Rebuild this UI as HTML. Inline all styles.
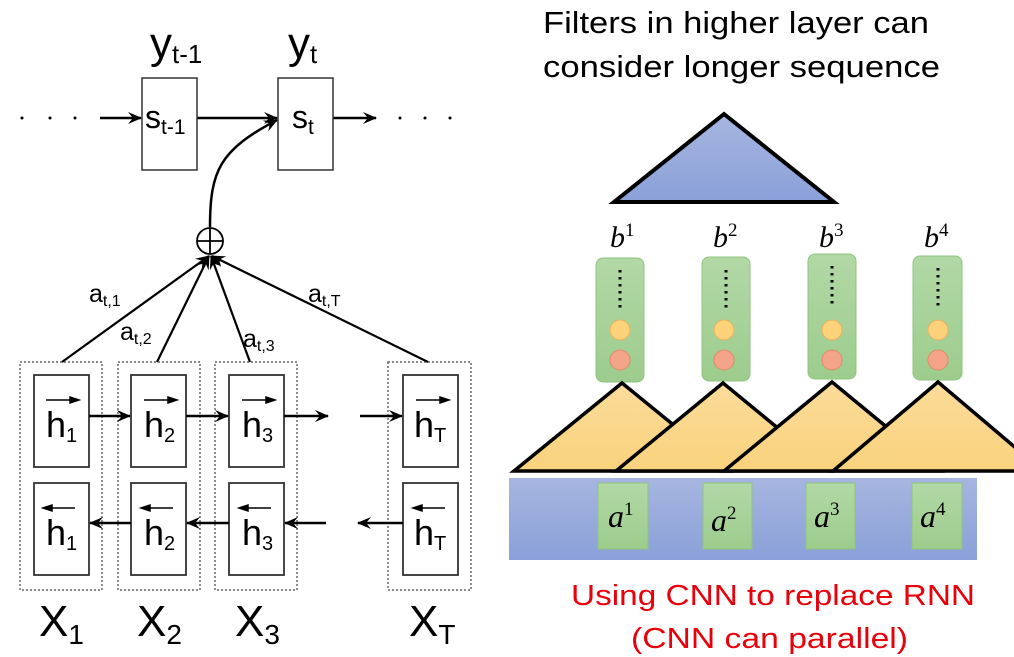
<!DOCTYPE html>
<html><head><meta charset="utf-8"><style>
html,body{margin:0;padding:0;background:#fff;width:1014px;height:657px;overflow:hidden}
</style></head><body>
<svg width="1014" height="657" viewBox="0 0 1014 657" xmlns="http://www.w3.org/2000/svg" font-family="Liberation Sans, sans-serif">
<defs>
<marker id="ar" markerWidth="14" markerHeight="12" refX="13" refY="6" orient="auto" markerUnits="userSpaceOnUse">
<path d="M0,0 L14,6 L0,12 L5,6 Z" fill="#000"/></marker>
<linearGradient id="blu" x1="0" y1="0" x2="0" y2="1"><stop offset="0" stop-color="#a7b6e0"/><stop offset="1" stop-color="#8aa0d8"/></linearGradient>
<linearGradient id="grn" x1="0" y1="0" x2="0" y2="1"><stop offset="0" stop-color="#b2d8a6"/><stop offset="1" stop-color="#9dcc8d"/></linearGradient>
<linearGradient id="org" x1="0" y1="0" x2="0" y2="1"><stop offset="0" stop-color="#fbdc9a"/><stop offset="1" stop-color="#f9d27c"/></linearGradient>
</defs>

<g fill="#000">
<circle cx="22" cy="118" r="1.5"/><circle cx="50" cy="118" r="1.5"/><circle cx="75" cy="118" r="1.5"/>
<circle cx="400" cy="118" r="1.5"/><circle cx="425" cy="118" r="1.5"/><circle cx="450" cy="118" r="1.5"/>
</g>
<g stroke="#000" stroke-width="2.5" fill="none">
<line x1="100" y1="118" x2="141" y2="118" marker-end="url(#ar)"/>
<line x1="197" y1="118" x2="277" y2="118" marker-end="url(#ar)"/>
<line x1="333" y1="118" x2="376" y2="118" marker-end="url(#ar)"/>
<path d="M210,227 C210,170 220,150 277,120" marker-end="url(#ar)"/>
</g>
<rect x="142" y="78" width="55" height="92" fill="none" stroke="#333" stroke-width="1.5"/>
<rect x="278" y="78" width="55" height="92" fill="none" stroke="#333" stroke-width="1.5"/>
<text x="145" y="128" font-size="32">s<tspan font-size="21" dy="6">t-1</tspan></text>
<text x="292" y="128" font-size="32">s<tspan font-size="21" dy="6">t</tspan></text>
<text x="150" y="58" font-size="44">y<tspan font-size="26" dy="5">t-1</tspan></text>
<text x="288" y="58" font-size="44">y<tspan font-size="26" dy="5">t</tspan></text>

<circle cx="210" cy="241" r="13" fill="none" stroke="#000" stroke-width="1.8"/>
<line x1="197" y1="241" x2="223" y2="241" stroke="#000" stroke-width="1.8"/>
<line x1="210" y1="228" x2="210" y2="254" stroke="#000" stroke-width="1.8"/>
<g stroke="#000" stroke-width="2.2" fill="none">
<line x1="62" y1="362" x2="209" y2="256" marker-end="url(#ar)"/>
<line x1="157" y1="362" x2="209" y2="256" marker-end="url(#ar)"/>
<line x1="250" y1="362" x2="211" y2="256" marker-end="url(#ar)"/>
<line x1="428" y1="362" x2="212" y2="256" marker-end="url(#ar)"/>
</g>
<text x="89" y="302" font-size="25">a<tspan font-size="16" dy="4">t,1</tspan></text>
<text x="120" y="340" font-size="25">a<tspan font-size="16" dy="4">t,2</tspan></text>
<text x="243" y="347" font-size="25">a<tspan font-size="16" dy="4">t,3</tspan></text>
<text x="308" y="302" font-size="25">a<tspan font-size="16" dy="4">t,T</tspan></text>

<g fill="none" stroke="#444" stroke-width="1.2" stroke-dasharray="2,2">
<rect x="20" y="362" width="82" height="228"/>
<rect x="118" y="362" width="82" height="228"/>
<rect x="215" y="362" width="82" height="228"/>
<rect x="388" y="362" width="83" height="228"/>
</g>
<g fill="none" stroke="#333" stroke-width="1.8">
<rect x="34" y="375" width="55" height="92"/><rect x="131" y="375" width="55" height="92"/>
<rect x="229" y="375" width="55" height="92"/><rect x="403" y="375" width="55" height="92"/>
<rect x="34" y="483" width="55" height="92"/><rect x="131" y="483" width="55" height="92"/>
<rect x="229" y="483" width="55" height="92"/><rect x="403" y="483" width="55" height="92"/>
</g>
<g stroke="#000" stroke-width="2.5" fill="none">
<line x1="89" y1="416" x2="130" y2="416" marker-end="url(#ar)"/>
<line x1="186" y1="416" x2="228" y2="416" marker-end="url(#ar)"/>
<line x1="284" y1="416" x2="328" y2="416" marker-end="url(#ar)"/>
<line x1="360" y1="416" x2="402" y2="416" marker-end="url(#ar)"/>
<line x1="131" y1="523" x2="90" y2="523" marker-end="url(#ar)"/>
<line x1="229" y1="523" x2="187" y2="523" marker-end="url(#ar)"/>
<line x1="326" y1="523" x2="285" y2="523" marker-end="url(#ar)"/>
<line x1="403" y1="523" x2="358" y2="523" marker-end="url(#ar)"/>
</g>
<g font-size="36">
<text x="46" y="437">h<tspan font-size="20" dy="5">1</tspan></text>
<text x="144" y="437">h<tspan font-size="20" dy="5">2</tspan></text>
<text x="242" y="437">h<tspan font-size="20" dy="5">3</tspan></text>
<text x="414" y="437">h<tspan font-size="20" dy="5">T</tspan></text>
<text x="46" y="545">h<tspan font-size="20" dy="5">1</tspan></text>
<text x="144" y="545">h<tspan font-size="20" dy="5">2</tspan></text>
<text x="242" y="545">h<tspan font-size="20" dy="5">3</tspan></text>
<text x="414" y="545">h<tspan font-size="20" dy="5">T</tspan></text>
</g>
<g stroke="#000" stroke-width="1.5" fill="#000">
<line x1="46" y1="400" x2="76" y2="400"/><path d="M79,400 L70,397 L70,403Z"/>
<line x1="144" y1="400" x2="174" y2="400"/><path d="M177,400 L168,397 L168,403Z"/>
<line x1="242" y1="400" x2="272" y2="400"/><path d="M275,400 L266,397 L266,403Z"/>
<line x1="416" y1="400" x2="446" y2="400"/><path d="M449,400 L440,397 L440,403Z"/>
<line x1="46" y1="508" x2="75" y2="508"/><path d="M43,508 L52,505 L52,511Z"/>
<line x1="144" y1="508" x2="173" y2="508"/><path d="M141,508 L150,505 L150,511Z"/>
<line x1="242" y1="508" x2="271" y2="508"/><path d="M239,508 L248,505 L248,511Z"/>
<line x1="416" y1="508" x2="445" y2="508"/><path d="M413,508 L422,505 L422,511Z"/>
</g>
<g font-size="44">
<text x="39" y="636">X<tspan font-size="28" dy="8">1</tspan></text>
<text x="137" y="636">X<tspan font-size="28" dy="8">2</tspan></text>
<text x="235" y="636">X<tspan font-size="28" dy="8">3</tspan></text>
<text x="409" y="636">X<tspan font-size="28" dy="8">T</tspan></text>
</g>

<text x="543" y="33" font-size="31" textLength="386" lengthAdjust="spacingAndGlyphs">Filters in higher layer can</text>
<text x="543" y="77" font-size="31" textLength="397" lengthAdjust="spacingAndGlyphs">consider longer sequence</text>
<polygon points="724,114 614,202 834,202" fill="url(#blu)" stroke="#000" stroke-width="4"/>

<g font-family="Liberation Serif, serif" font-style="italic" font-size="30">
<text x="610" y="247">b<tspan font-size="19" dy="-11" font-style="normal">1</tspan></text>
<text x="713" y="247">b<tspan font-size="19" dy="-11" font-style="normal">2</tspan></text>
<text x="819" y="247">b<tspan font-size="19" dy="-11" font-style="normal">3</tspan></text>
<text x="924" y="247">b<tspan font-size="19" dy="-11" font-style="normal">4</tspan></text>
</g>
<g stroke="#8fc47e" stroke-width="1">
<rect x="596" y="258" width="48" height="124" rx="7" fill="url(#grn)"/>
<rect x="702" y="257" width="48" height="124" rx="7" fill="url(#grn)"/>
<rect x="808" y="254" width="48" height="125" rx="7" fill="url(#grn)"/>
<rect x="913" y="256" width="49" height="124" rx="7" fill="url(#grn)"/>
</g>
<g stroke="#000" stroke-width="3" stroke-dasharray="2.5,4.5">
<line x1="620" y1="270" x2="620" y2="310"/><line x1="726" y1="270" x2="726" y2="310"/>
<line x1="832" y1="266" x2="832" y2="308"/><line x1="938" y1="268" x2="938" y2="309"/>
</g>
<g stroke="#e8b060" stroke-width="1"><circle cx="620" cy="330" r="10" fill="#fdd27a"/><circle cx="724" cy="330" r="10" fill="#fdd27a"/><circle cx="832" cy="330" r="10" fill="#fdd27a"/><circle cx="938" cy="330" r="10" fill="#fdd27a"/></g>
<g stroke="#e08a6a" stroke-width="1"><circle cx="620" cy="360" r="10" fill="#f4a488"/><circle cx="724" cy="360" r="10" fill="#f4a488"/><circle cx="832" cy="360" r="10" fill="#f4a488"/><circle cx="938" cy="360" r="10" fill="#f4a488"/></g>

<g fill="url(#org)" stroke="#000" stroke-width="3.5">
<polygon points="622,383 514,471 730,471"/>
<polygon points="723,383 616,471 830,471"/>
<polygon points="832,382 724,471 940,471"/>
<polygon points="938,382 833,471 1043,471"/>
</g>
<rect x="509" y="478" width="468" height="82" fill="url(#blu)"/>
<g fill="url(#grn)" stroke="#8fc47e" stroke-width="1">
<rect x="598" y="483" width="50" height="66"/><rect x="703" y="483" width="49" height="66"/>
<rect x="806" y="483" width="49" height="66"/><rect x="912" y="483" width="50" height="66"/>
</g>
<g font-family="Liberation Serif, serif" font-style="italic" font-size="32">
<text x="608" y="527">a<tspan font-size="19" dy="-12" font-style="normal">1</tspan></text>
<text x="711" y="531">a<tspan font-size="19" dy="-12" font-style="normal">2</tspan></text>
<text x="814" y="527">a<tspan font-size="19" dy="-12" font-style="normal">3</tspan></text>
<text x="920" y="527">a<tspan font-size="19" dy="-12" font-style="normal">4</tspan></text>
</g>
<text x="571" y="605" font-size="29" fill="#e8000b" textLength="404" lengthAdjust="spacingAndGlyphs">Using CNN to replace RNN</text>
<text x="631" y="648" font-size="29" fill="#e8000b" textLength="277" lengthAdjust="spacingAndGlyphs">(CNN can parallel)</text>
</svg>
</body></html>
